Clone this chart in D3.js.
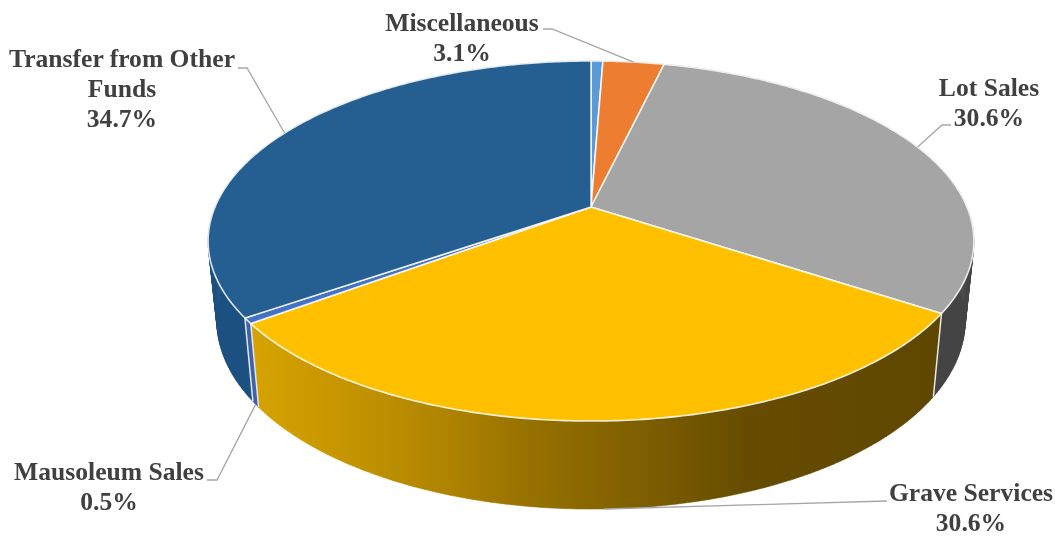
<!DOCTYPE html>
<html>
<head>
<meta charset="utf-8">
<script src="https://cdn.jsdelivr.net/npm/d3@7"></script>
<style>
  html, body { margin: 0; padding: 0; background: #fff; }
  svg { display: block; filter: blur(0.4px); }
  text { font-family: "Liberation Serif", serif; font-weight: bold; font-size: 25.6px; fill: #404040; text-anchor: middle; }
</style>
</head>
<body>
<svg id="chart" width="1055" height="536"></svg>
<script>
// slices run clockwise from 12 o'clock, the first one has no label
const categories = ['', 'Miscellaneous', 'Lot Sales', 'Grave Services', 'Mausoleum Sales', 'Transfer from Other Funds'];
const shares = [0.6, 3.1, 30.6, 30.6, 0.5, 34.7];
const shareLabels = ['', '3.1%', '30.6%', '30.6%', '0.5%', '34.7%'];
const topColors = ['#5b9bd5', '#ed7d31', '#a5a5a5', '#ffc000', '#4472c4', '#255e91'];
const wallColors = ['#3d6f9e', '#a9541d', '#444444', 'url(#graveWall)', '#3f63ad', '#1c5080'];

// label layout: text lines, centre x, first baseline, leader elbow
const labelLayout = [
  null,
  { lines: ['Miscellaneous'], x: 462, y: 31, elbow: [[543, 29], [552, 29]], rim: 'top' },
  { lines: ['Lot Sales'], x: 989, y: 96, elbow: [[951, 125], [942, 125]], rim: 'top' },
  { lines: ['Grave Services'], x: 971, y: 501, elbow: [[887, 501]], rim: 'bottom' },
  { lines: ['Mausoleum Sales'], x: 109, y: 480, elbow: [[207, 480], [217, 480]], rim: 'bottom' },
  { lines: ['Transfer from Other', 'Funds'], x: 122, y: 67, elbow: [[238, 68], [247, 68]], rim: 'top' }
];

const cx = 591, cy = 207;
const perspective = 0.189;
const x = d3.scaleLinear().domain([-1, 1]).range([cx - 376, cx + 376]);
const y = d3.scaleLinear().domain([-1, 1]).range([cy + 173.6, cy - 173.6]);

function topPoint(a) {
  const u = Math.sin(a), v = Math.cos(a), f = 1 / (1 + perspective * v);
  return [x(u * f), y(v * f)];
}
function bottomPoint(a) {
  const p = topPoint(a);
  return [cx + 0.977 * (p[0] - cx), 285.4 + 1.045 * (p[1] - cy)];
}
function rim(fn, a0, a1) {
  const n = Math.max(2, Math.ceil((a1 - a0) * 90));
  return d3.range(n + 1).map(i => fn(a0 + (a1 - a0) * i / n));
}

const slices = d3.pie().sort(null).value(d => d)(shares);
const line = d3.line();
const svg = d3.select('#chart');

const grad = svg.append('defs').append('linearGradient')
  .attr('id', 'graveWall').attr('gradientUnits', 'userSpaceOnUse')
  .attr('x1', 250).attr('x2', 940).attr('y1', 0).attr('y2', 0);
[[0, '#d6a300'], [0.15, '#c49400'], [0.29, '#ad8300'], [0.4, '#977200'], [0.58, '#7c5d00'], [0.72, '#654c00'], [1, '#5f4700']]
  .forEach(([o, c]) => grad.append('stop').attr('offset', o).attr('stop-color', c));

// wall of one slice as a run of quads, the two rims cross at the sides
function wallPath(d) {
  const t = rim(topPoint, d.startAngle, d.endAngle);
  const b = rim(bottomPoint, d.startAngle, d.endAngle);
  return d3.range(t.length - 1)
    .map(i => line([t[i], t[i + 1], b[i + 1], b[i]]) + 'Z')
    .join('');
}

// side walls first, the top face covers whatever is behind it
svg.append('g').selectAll('path').data(slices).join('path')
  .attr('d', wallPath)
  .attr('fill', (d, i) => wallColors[i])
  .attr('stroke', (d, i) => wallColors[i])
  .attr('stroke-width', 0.5);

// pale edges where the front slices meet on the wall
svg.append('g').selectAll('path')
  .data(slices.filter(d => Math.cos(d.startAngle) < 0 && d.startAngle > 1))
  .join('path')
  .attr('d', d => line([topPoint(d.startAngle), bottomPoint(d.startAngle)]))
  .attr('stroke', '#e8e8e8').attr('stroke-width', 1.5).attr('fill', 'none');

const apex = [x(0), y(0)];
svg.append('g').selectAll('path').data(slices).join('path')
  .attr('d', d => line([apex, ...rim(topPoint, d.startAngle, d.endAngle)]) + 'Z')
  .attr('fill', (d, i) => topColors[i])
  .attr('stroke', '#fff').attr('stroke-opacity', 0.85)
  .attr('stroke-width', 1.6).attr('stroke-linejoin', 'round');

// leaders and labels
slices.forEach((d, i) => {
  const lab = labelLayout[i];
  if (!lab) return;
  const mid = (d.startAngle + d.endAngle) / 2;
  const end = lab.rim === 'top' ? topPoint(mid) : bottomPoint(mid);
  svg.append('path')
    .attr('d', line([...lab.elbow, end]))
    .attr('fill', 'none').attr('stroke', '#a6a6a6').attr('stroke-width', 1.3);
  const t = svg.append('text').attr('x', lab.x).attr('y', lab.y);
  [...lab.lines, shareLabels[i]].forEach((s, j) => t.append('tspan').attr('x', lab.x).attr('dy', j ? 30 : 0).text(s));
});
</script>
</body>
</html>
